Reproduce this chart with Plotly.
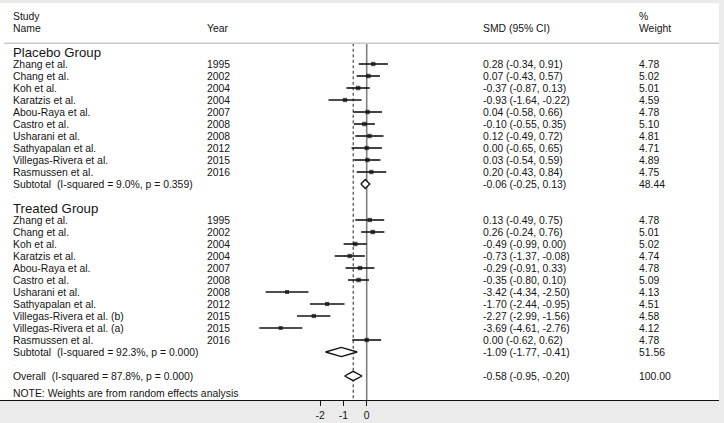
import plotly.graph_objects as go

# ---- data ----
placebo_names = ["Zhang et al.", "Chang et al.", "Koh et al.", "Karatzis et al.", "Abou-Raya et al.",
                 "Castro et al.", "Usharani et al.", "Sathyapalan et al.", "Villegas-Rivera et al.", "Rasmussen et al."]
placebo_years = [1995, 2002, 2004, 2004, 2007, 2008, 2008, 2012, 2015, 2016]
placebo_smd = [0.28, 0.07, -0.37, -0.93, 0.04, -0.10, 0.12, 0.00, 0.03, 0.20]
placebo_lo = [-0.34, -0.43, -0.87, -1.64, -0.58, -0.55, -0.49, -0.65, -0.54, -0.43]
placebo_hi = [0.91, 0.57, 0.13, -0.22, 0.66, 0.35, 0.72, 0.65, 0.59, 0.84]
placebo_w = [4.78, 5.02, 5.01, 4.59, 4.78, 5.10, 4.81, 4.71, 4.89, 4.75]

treated_names = ["Zhang et al.", "Chang et al.", "Koh et al.", "Karatzis et al.", "Abou-Raya et al.",
                 "Castro et al.", "Usharani et al.", "Sathyapalan et al.", "Villegas-Rivera et al. (b)",
                 "Villegas-Rivera et al. (a)", "Rasmussen et al."]
treated_years = [1995, 2002, 2004, 2004, 2007, 2008, 2008, 2012, 2015, 2015, 2016]
treated_smd = [0.13, 0.26, -0.49, -0.73, -0.29, -0.35, -3.42, -1.70, -2.27, -3.69, 0.00]
treated_lo = [-0.49, -0.24, -0.99, -1.37, -0.91, -0.80, -4.34, -2.44, -2.99, -4.61, -0.62]
treated_hi = [0.75, 0.76, 0.00, -0.08, 0.33, 0.10, -2.50, -0.95, -1.56, -2.76, 0.62]
treated_w = [4.78, 5.01, 5.02, 4.74, 4.78, 5.09, 4.13, 4.51, 4.58, 4.12, 4.78]

# subtotal / overall: label, smd, lo, hi, weight
placebo_sub = ["Subtotal\u00a0\u00a0(I-squared = 9.0%, p = 0.359)", -0.06, -0.25, 0.13, 48.44]
treated_sub = ["Subtotal\u00a0\u00a0(I-squared = 92.3%, p = 0.000)", -1.09, -1.77, -0.41, 51.56]
overall = ["Overall\u00a0\u00a0(I-squared = 87.8%, p = 0.000)", -0.58, -0.95, -0.20, 100.00]

tick_vals = [-2, -1, 0]

# ---- layout helpers ----
W, H = 724, 423
ML, MR, MT, MB = 0, 5, 3, 23
PW = W - ML - MR
X0_PX, PX_PER_UNIT = 366.7, 23.3
x_range = [-(X0_PX - ML) / PX_PER_UNIT, (ML + PW - X0_PX) / PX_PER_UNIT]
COL_NAME, COL_YEAR, COL_SMD, COL_W = 11, 205, 481, 637
TXT = "#141414"
FONT = "Liberation Sans, Arial, sans-serif"
FS = 10.4


def px(xp):
    return (xp - ML) / PW


def row_y(n):
    return 52 + 12 * n


annotations = []
shapes = []


def add_text(xp, y, text, size=FS, color=TXT):
    annotations.append(dict(x=px(xp), y=y, xref="paper", yref="y", text=text, showarrow=False,
                            xanchor="left", yanchor="middle", font=dict(size=size, color=color, family=FONT)))


fig = go.Figure()

# headers
add_text(COL_NAME, 16, "Study")
add_text(COL_NAME, 28.5, "Name")
add_text(COL_YEAR, 28.5, "Year")
add_text(COL_SMD, 28.5, "SMD (95% CI)")
add_text(COL_W, 16, "%")
add_text(COL_W, 28.5, "Weight")
shapes.append(dict(type="line", xref="paper", yref="y", x0=px(4), x1=1, y0=43.3, y1=43.3,
                   line=dict(color="#c8c8c8", width=1.5)))

ci_x, ci_y, pt_x, pt_y, pt_s = [], [], [], [], []
diamonds = []


def add_group(title, n0, names, years, smd, lo, hi, w, sub):
    add_text(COL_NAME - 0.5, row_y(n0), title, size=13.2)
    for i in range(len(names)):
        y = row_y(n0 + 1 + i)
        add_text(COL_NAME, y, names[i])
        add_text(COL_YEAR, y, str(years[i]))
        add_text(COL_SMD, y, f"{smd[i]:.2f} ({lo[i]:.2f}, {hi[i]:.2f})")
        add_text(COL_W, y, f"{w[i]:.2f}")
        ci_x.extend([lo[i], hi[i], None])
        ci_y.extend([y, y, None])
        pt_x.append(smd[i])
        pt_y.append(y)
        pt_s.append(w[i] ** 0.5 * 2.0)
    y = row_y(n0 + 1 + len(names))
    add_text(COL_NAME, y, sub[0])
    add_text(COL_SMD, y, f"{sub[1]:.2f} ({sub[2]:.2f}, {sub[3]:.2f})")
    add_text(COL_W, y, f"{sub[4]:.2f}")
    diamonds.append((sub, y))
    add_text(COL_NAME, y + 11, ".", size=8, color="#bbbbbb")


add_group("Placebo Group", 0, placebo_names, placebo_years, placebo_smd, placebo_lo, placebo_hi, placebo_w, placebo_sub)
add_group("Treated Group", 13, treated_names, treated_years, treated_smd, treated_lo, treated_hi, treated_w, treated_sub)

y_over = row_y(27)
add_text(COL_NAME, y_over, overall[0])
add_text(COL_SMD, y_over, f"{overall[1]:.2f} ({overall[2]:.2f}, {overall[3]:.2f})")
add_text(COL_W, y_over, f"{overall[4]:.2f}")
diamonds.append((overall, y_over))
add_text(COL_NAME, 393.5, "NOTE: Weights are from random effects analysis")

# reference lines
shapes.append(dict(type="line", xref="x", yref="y", x0=0, x1=0, y0=43.3, y1=400,
                   line=dict(color="#808080", width=1.6), layer="below"))
shapes.append(dict(type="line", xref="x", yref="y", x0=overall[1], x1=overall[1], y0=43.3, y1=400,
                   line=dict(color="#222222", width=1, dash="3px,2.5px"), layer="below"))

fig.add_trace(go.Scatter(x=ci_x, y=ci_y, mode="lines", line=dict(color="#141414", width=1.6),
                         hoverinfo="skip", showlegend=False))
fig.add_trace(go.Scatter(x=pt_x, y=pt_y, mode="markers",
                         marker=dict(symbol="square", size=pt_s, color="#0a0a0a", line=dict(width=0)),
                         showlegend=False))

for d, y in diamonds:
    h = 4.6
    fig.add_trace(go.Scatter(x=[d[2], d[1], d[3], d[1], d[2]], y=[y, y - h, y, y + h, y],
                             mode="lines", fill="toself", fillcolor="white",
                             line=dict(color="#111111", width=1.4), hoverinfo="skip", showlegend=False))

fig.update_layout(
    width=W, height=H, margin=dict(l=ML, r=MR, t=MT, b=MB),
    paper_bgcolor="#ebebeb", plot_bgcolor="white",
    font=dict(family=FONT, color=TXT, size=FS),
    xaxis=dict(range=x_range, showgrid=False, zeroline=False, showline=True, linecolor="#111111",
               linewidth=1.2, ticks="outside", ticklen=5, tickcolor="#111111", tickvals=tick_vals,
               ticktext=[str(v) for v in tick_vals], tickfont=dict(size=FS, color=TXT)),
    yaxis=dict(range=[400, MT], showgrid=False, zeroline=False, showticklabels=False, showline=False),
    annotations=annotations, shapes=shapes,
)

# drop the browser's default page margin so the figure sits at the window's corner
fig.write_html("out.html", config={"displayModeBar": False},
               post_script="document.body.style.margin='0';")
